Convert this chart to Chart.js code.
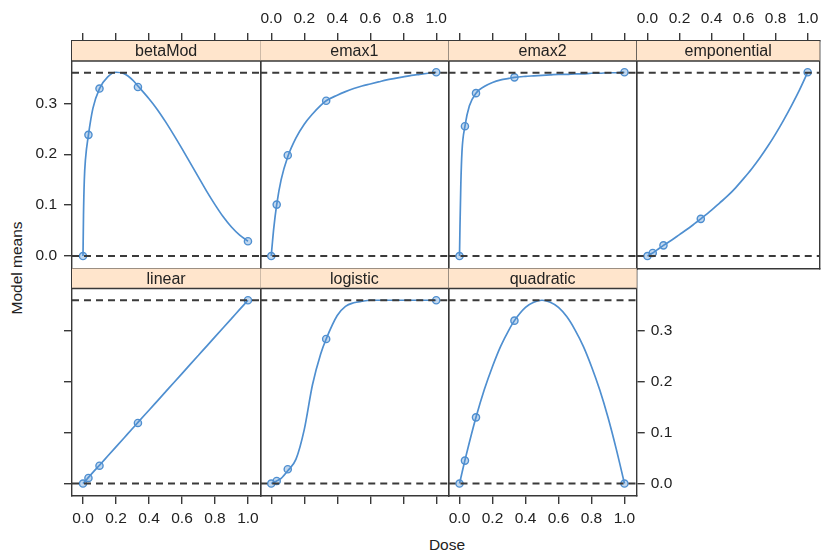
<!DOCTYPE html>
<html>
<head>
<meta charset="utf-8">
<title>Model means by dose</title>
<script src="https://cdn.jsdelivr.net/npm/chart.js@4.4.1/dist/chart.umd.min.js"></script>
<style>
  body { margin: 0; background: #fff; }
  #wrap { position: relative; width: 825px; height: 552px; overflow: hidden;
          font-family: 'Liberation Sans', Arial, sans-serif; color: #222; }
  #wrap canvas { position: absolute; left: 0; top: 0; }
  .lab { position: absolute; font-size: 15.5px; white-space: nowrap; }
  #ylab { left: 17px; top: 268px; transform: translate(-50%, -50%) rotate(-90deg); }
  #xlab { left: 447px; top: 545px; transform: translate(-50%, -50%); }
</style>
</head>
<body>
<div id="wrap">
  <div class="lab" id="ylab">Model means</div>
  <div class="lab" id="xlab">Dose</div>
</div>
<script>
// panel names, in lattice order (left to right, top row first)
var panelNames = ['betaMod', 'emax1', 'emax2', 'emponential', 'linear', 'logistic', 'quadratic'];

// doses with observed means
var doses = [0, 0.033, 0.1, 0.333, 1];
var betaModMeans     = [0, 0.238, 0.329, 0.332, 0.029];
var emax1Means       = [0, 0.101, 0.198, 0.305, 0.361];
var emax2Means       = [0, 0.255, 0.320, 0.351, 0.361];
var emponentialMeans = [0, 0.006, 0.021, 0.073, 0.361];
var linearMeans      = [0, 0.011, 0.035, 0.119, 0.360];
var logisticMeans    = [0, 0.005, 0.028, 0.284, 0.360];
var quadraticMeans   = [0, 0.045, 0.130, 0.320, 0];

// fitted model curves
var curveDoses = [0, 0.003, 0.008, 0.015, 0.033, 0.06, 0.1, 0.15, 0.2, 0.25, 0.3, 0.333,
                  0.4, 0.45, 0.5, 0.55, 0.6, 0.65, 0.7, 0.75, 0.8, 0.85, 0.9, 0.95, 1];
var betaModCurve = [0, 0.08, 0.15, 0.19, 0.238, 0.29, 0.329, 0.352, 0.361, 0.358, 0.346, 0.334,
                    0.309, 0.288, 0.264, 0.238, 0.211, 0.183, 0.155, 0.127, 0.101, 0.077, 0.057, 0.041, 0.029];
var emax1Curve = [0, 0.012, 0.03, 0.054, 0.101, 0.15, 0.195, 0.232, 0.259, 0.279, 0.296, 0.305,
                  0.316, 0.323, 0.329, 0.334, 0.338, 0.342, 0.346, 0.349, 0.352, 0.355, 0.357, 0.359, 0.361];
var emax2Curve = [0, 0.06, 0.14, 0.205, 0.255, 0.295, 0.32, 0.333, 0.341, 0.346, 0.349, 0.351,
                  0.353, 0.354, 0.355, 0.356, 0.357, 0.357, 0.358, 0.358, 0.359, 0.359, 0.36, 0.36, 0.361];
var emponentialCurve = [0, 0.0005, 0.0015, 0.003, 0.006, 0.012, 0.021, 0.031, 0.042, 0.053, 0.065, 0.073,
                        0.09, 0.104, 0.118, 0.134, 0.152, 0.171, 0.192, 0.215, 0.24, 0.267, 0.296, 0.327, 0.361];
var linearCurve = [0, 0.001, 0.003, 0.005, 0.012, 0.022, 0.036, 0.054, 0.072, 0.09, 0.108, 0.12,
                   0.144, 0.162, 0.18, 0.198, 0.216, 0.234, 0.252, 0.27, 0.288, 0.306, 0.324, 0.342, 0.36];
var logisticCurve = [0, 0.0005, 0.001, 0.002, 0.005, 0.01, 0.025, 0.048, 0.106, 0.194, 0.255, 0.284,
                     0.33, 0.348, 0.355, 0.358, 0.36, 0.36, 0.36, 0.36, 0.36, 0.36, 0.36, 0.36, 0.36];
var quadraticCurve = [0, 0.004, 0.011, 0.021, 0.046, 0.081, 0.13, 0.184, 0.23, 0.27, 0.302, 0.32,
                      0.346, 0.356, 0.36, 0.356, 0.346, 0.328, 0.302, 0.27, 0.23, 0.184, 0.13, 0.068, 0];

// dashed reference levels (placebo and max effect)
var refLevels = [0, 0.36];

// tick labels
var xTicks = [0, 0.2, 0.4, 0.6, 0.8, 1.0];
var yTicks = [0, 0.1, 0.2, 0.3];

var meansList = [betaModMeans, emax1Means, emax2Means, emponentialMeans, linearMeans, logisticMeans, quadraticMeans];
var curveList = [betaModCurve, emax1Curve, emax2Curve, emponentialCurve, linearCurve, logisticCurve, quadraticCurve];

// layout of the lattice
var W = 825, H = 552;
var gridLeft = 72, gridTop = 41, panelW = 188.25, rowH = 227.5, stripH = 20;
var xMin = -0.0667, xMax = 1.0745, yMin = -0.0245, yMax = 0.4224;

var lineCol = '#4f8fd0';
var frameCol = '#383838';
var fontSize = 15.5;

Chart.defaults.font.family = "'Liberation Sans', Arial, sans-serif";
Chart.defaults.font.size = fontSize;
Chart.defaults.color = '#222';

// strip with the panel name
var stripPlugin = {
  id: 'strip',
  afterDatasetsDraw: function (chart, args, opts) {
    var a = chart.chartArea, ctx = chart.ctx;
    ctx.save();
    ctx.fillStyle = '#ffe5cc';
    ctx.fillRect(a.left, a.top, a.right - a.left, stripH);
    ctx.strokeStyle = frameCol;
    ctx.lineWidth = 1.4;
    ctx.beginPath();
    ctx.moveTo(a.left, a.top + stripH);
    ctx.lineTo(a.right, a.top + stripH);
    ctx.stroke();
    ctx.fillStyle = '#222';
    ctx.font = "16px 'Liberation Sans', Arial, sans-serif";
    ctx.textAlign = 'center';
    ctx.textBaseline = 'middle';
    ctx.fillText(opts.label, (a.left + a.right) / 2, a.top + stripH / 2 + 1);
    ctx.restore();
  }
};

function axis(pos, isY, hasTicks, hasLabels, size, pad) {
  return {
    type: 'linear',
    position: pos,
    min: isY ? yMin : xMin,
    max: isY ? yMax : xMax,
    grid: { display: true, drawOnChartArea: false, drawTicks: hasTicks, tickLength: 8,
            color: frameCol, lineWidth: 1.4 },
    border: { display: true, color: frameCol, width: 1.4 },
    ticks: { display: hasLabels, padding: pad, color: '#222', font: { size: fontSize },
             callback: function (v) { return Number(v).toFixed(1); } },
    afterBuildTicks: function (s) {
      s.ticks = (isY ? yTicks : xTicks).map(function (v) { return { value: v }; });
    },
    afterFit: function (s) {
      if (isY) s.width = Math.max(size, 0); else s.height = Math.max(size, 0);
    }
  };
}

var wrap = document.getElementById('wrap');

panelNames.forEach(function (name, i) {
  var col = i % 4, row = Math.floor(i / 4);
  var left = gridLeft + col * panelW, right = left + panelW;
  var top = gridTop + row * rowH, bottom = top + rowH;

  var cv = document.createElement('canvas');
  cv.width = W; cv.height = H;
  wrap.appendChild(cv);

  var pts = doses.map(function (d, k) { return { x: d, y: meansList[i][k] }; });
  var crv = curveDoses.map(function (d, k) { return { x: d, y: curveList[i][k] }; });

  var datasets = refLevels.map(function (lv) {
    return {
      data: [{ x: xMin, y: lv }, { x: xMax, y: lv }],
      borderColor: '#3a3a3a', borderWidth: 1.9, borderDash: [7, 5],
      pointRadius: 0, fill: false
    };
  });
  datasets.push({
    data: pts, showLine: false,
    pointRadius: 3.6, pointBorderWidth: 1.4,
    pointBorderColor: lineCol, pointBackgroundColor: 'rgba(79,143,208,0.35)'
  });
  datasets.push({
    data: crv, borderColor: lineCol, borderWidth: 1.7,
    pointRadius: 0, fill: false, cubicInterpolationMode: 'monotone'
  });

  new Chart(cv, {
    type: 'line',
    data: { datasets: datasets },
    options: {
      responsive: false,
      animation: false,
      events: [],
      devicePixelRatio: 1,
      layout: { padding: 0 },
      plugins: { legend: { display: false }, tooltip: { enabled: false }, strip: { label: name } },
      scales: {
        x: axis('bottom', false, row === 1, row === 1 && col % 2 === 0, H - bottom, 5),
        x2: axis('top', false, row === 0, row === 0 && col % 2 === 1, top, 5),
        y: axis('left', true, col === 0, col === 0 && row === 0, left, 7),
        y2: axis('right', true, i === 6, i === 6, W - right, 6)
      }
    },
    plugins: [stripPlugin]
  });
});
</script>
</body>
</html>
